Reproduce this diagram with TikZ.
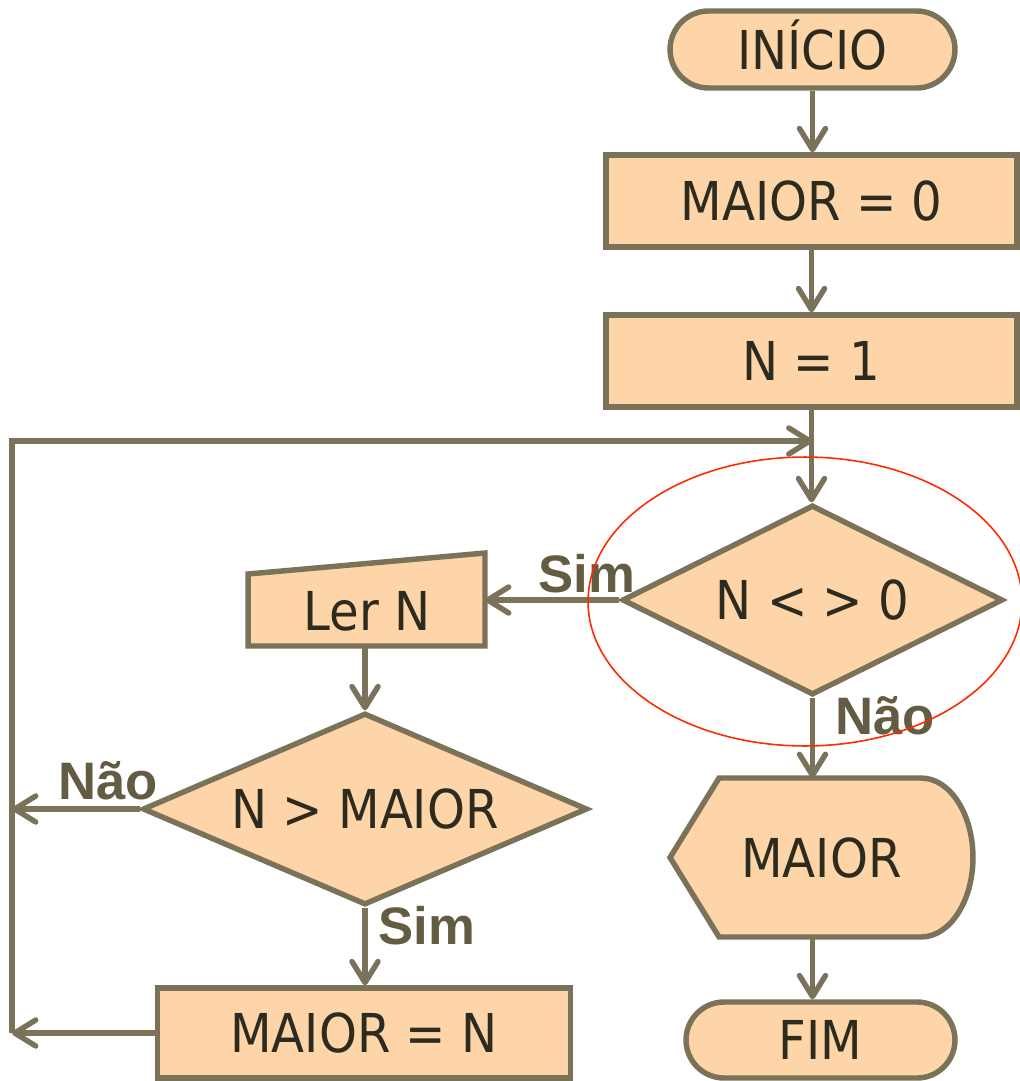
\documentclass[tikz,border=0pt]{standalone}
\usepackage{fontspec}
\setmainfont{DejaVu Sans Condensed}
\newfontfamily\lblfont{Liberation Sans}
\usetikzlibrary{arrows.meta,shapes.geometric,shapes.misc,calc}
\definecolor{fcfill}{HTML}{FED5A8}
\definecolor{fcline}{HTML}{7A7259}
\definecolor{fctext}{HTML}{2D2A1E}
\definecolor{fclabel}{HTML}{635B42}
\definecolor{fcred}{HTML}{FF2A00}
\tikzset{
  lw/.style={line width=3.1pt},
  base/.style={draw=fcline, fill=fcfill, lw, text=fctext,
    font=\fontsize{30.5}{36}\selectfont, text height=22.2pt, text depth=0pt,
    inner sep=0pt, line join=miter},
  term/.style={base, rounded rectangle, minimum height=1.54cm},
  proc/.style={base, rectangle, minimum width=8.22cm, minimum height=1.84cm},
  dec/.style={base, diamond, minimum height=3.8cm},
  ghost/.style={base, draw=none, fill=none, rectangle, outer sep=0pt},
  outline/.style={draw=fcline, fill=fcfill, lw, line join=miter},
  lbl/.style={text=fclabel, font=\lblfont\bfseries\fontsize{30}{34}\selectfont,
    inner sep=0pt, text height=21.5pt, text depth=0pt},
  wire/.style={draw=fcline, lw, line join=miter},
  conn/.style={wire, -{Straight Barb[length=0.42cm,width=0.52cm,round]}},
}
\begin{document}
\begin{tikzpicture}[x=0.02cm,y=-0.02cm]
\useasboundingbox (0,0) rectangle (1020,1081);

% right column
\node[term, minimum width=5.7cm] (ini) at (812.5,49.5) {INÍCIO};
\node[proc] (m0) at (811.5,201) {MAIOR = 0};
\node[proc] (n1) at (811.5,361) {N = 1};
\node[dec, aspect=2, minimum width=7.62cm] (d1) at (812.5,600) {N < > 0};

% display shape
\node[ghost, minimum width=6.06cm, minimum height=3.18cm] (disp) at (821.5,857.5) {};
\draw[outline] (disp.west) -- ([xshift=0.98cm]disp.north west)
  -- ([xshift=-1.04cm]disp.north east)
  arc[start angle=90, end angle=-90, x radius=1.04cm, y radius=1.59cm]
  -- ([xshift=0.98cm]disp.south west) -- cycle;
\node[ghost] (dispt) at (disp.center) {MAIOR};

\node[term, minimum width=5.38cm, minimum height=1.52cm] (fim) at (820.5,1040) {FIM};

% left column
\node[ghost, minimum width=4.74cm, minimum height=1.44cm] (lern) at (366.5,610) {};
\draw[outline] (lern.south west) -- (lern.south east)
  -- ([yshift=0.42cm]lern.north east) -- (lern.north west) -- cycle;
\node[ghost] (lernt) at (367,611) {Ler N};

\node[dec, aspect=2.32, minimum width=8.9cm, minimum height=3.84cm] (d2) at (365,809) {N > MAIOR};
\node[proc, minimum width=8.26cm, minimum height=1.8cm] (mn) at (364,1033) {MAIOR = N};

% loop coordinates
\coordinate (lpT) at (12,441);
\coordinate (lpB) at (12,1033);

% connectors
\draw[conn] (ini.south) -- (ini.south |- m0.north);
\draw[conn] (m0.south) -- (m0.south |- n1.north);
\draw[conn] (n1.south) -- (n1.south |- d1.north);
\draw[conn] (lpB) -- (lpT) -- (lpT -| d1.north);
\draw[conn] (d1.west) -- (d1.west -| lern.east);
\draw[conn] (d2.north |- lern.south) -- (d2.north);
\draw[conn] (d2.west) -- (d2.west -| lpT);
\draw[conn] (d2.south) -- (d2.south |- mn.north);
\draw[conn] (mn.west) -- (mn.west -| lpB);
\draw[conn] (d1.south) -- (d1.south |- disp.north);
\draw[conn] (d1.south |- disp.south) -- (d1.south |- fim.north);

% labels
\node[lbl] (simA) at (587,574) {Sim};
\node[lbl] (naoA) at (885,716) {Não};
\node[lbl] (naoB) at (108,781) {Não};
\node[lbl] (simB) at (427,926) {Sim};

% red highlight
\draw[fcred, line width=0.9pt] ($(d1.center)+(-7.5,1.5)$) ellipse [x radius=4.34cm, y radius=2.89cm];
\end{tikzpicture}
\end{document}
